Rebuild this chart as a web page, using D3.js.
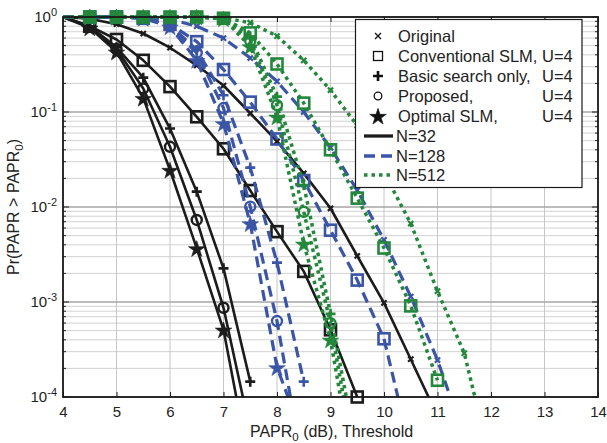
<!DOCTYPE html>
<html>
<head>
<meta charset="utf-8">
<script src="https://cdn.jsdelivr.net/npm/d3@7"></script>
<style>
  html, body { margin: 0; padding: 0; background: #fff; }
  svg { display: block; font-family: "Liberation Sans", Arial, sans-serif; }
</style>
</head>
<body>
<div id="chart"></div>
<script>
// PAPR CCDF curves

const thresholds = [4, 4.5, 5, 5.5, 6, 6.5, 7, 7.5, 8, 8.5, 9, 9.5, 10, 10.5, 11, 11.5, 12];

// N = 32
const orig32  = [1, 0.96, 0.84, 0.67, 0.475, 0.31, 0.19, 0.097, 0.049, 0.0226, 0.0097, 0.00305, 0.00098, 0.00025, 0.000063];
const conv32  = [1, 0.8, 0.58, 0.35, 0.185, 0.089, 0.041, 0.0149, 0.0055, 0.0021, 0.00051, 0.0001];
const basic32 = [1, 0.8, 0.48, 0.23, 0.067, 0.0145, 0.00226, 0.000145];
const prop32  = [1, 0.79, 0.46, 0.177, 0.043, 0.0073, 0.00087, 0.000044];
const opt32   = [1, 0.77, 0.43, 0.14, 0.0245, 0.00367, 0.00051, 0.000017];

// N = 128
const orig128  = [1, 1, 1, 0.99, 0.95, 0.8, 0.6, 0.37, 0.21, 0.1, 0.042, 0.015, 0.0045, 0.00114, 0.000245, 0.000038];
const conv128  = [1, 1, 1, 0.97, 0.84, 0.55, 0.28, 0.127, 0.052, 0.019, 0.0057, 0.0017, 0.00041, 0.000027];
const basic128 = [1, 1, 1, 0.98, 0.82, 0.45, 0.15, 0.026, 0.0026, 0.000145];
const prop128  = [1, 1, 1, 0.98, 0.8, 0.42, 0.11, 0.0101, 0.00063, 0.000016];
const opt128   = [1, 1, 1, 0.97, 0.79, 0.35, 0.076, 0.0067, 0.000205, 0.000036];

// N = 512
const orig512  = [1, 1, 1, 1, 1, 1, 0.98, 0.87, 0.63, 0.35, 0.17, 0.072, 0.023, 0.0067, 0.0013, 0.00029, 0.00002];
const conv512  = [1, 1, 1, 1, 1, 1, 0.97, 0.68, 0.32, 0.124, 0.04, 0.0124, 0.0037, 0.00091, 0.00015];
const basic512 = [1, 1, 1, 1, 1, 1, 0.97, 0.62, 0.145, 0.017, 0.00075, 0.000025];
const prop512  = [1, 1, 1, 1, 1, 1, 0.96, 0.56, 0.118, 0.0089, 0.0006, 0.000015];
const opt512   = [1, 1, 1, 1, 1, 1, 0.96, 0.49, 0.089, 0.0041, 0.0004, 0.00001];

const xTicks = [4, 5, 6, 7, 8, 9, 10, 11, 12, 13, 14];
const yDecades = [0, -1, -2, -3, -4];

const legendMethods = [
  { label: "Original", u: "", marker: "x" },
  { label: "Conventional SLM,", u: "U=4", marker: "square" },
  { label: "Basic search only,", u: "U=4", marker: "plus" },
  { label: "Proposed,", u: "U=4", marker: "circle" },
  { label: "Optimal SLM,", u: "U=4", marker: "star" }
];
const legendSizes = ["N=32", "N=128", "N=512"];

const W = 607, H = 443;
const margin = { left: 63, right: 9, top: 17, bottom: 46 };

const styles = [
  { color: "#1c1c1c", width: 2.6, dash: null },
  { color: "#3b55a6", width: 3.2, dash: "11,6" },
  { color: "#23873b", width: 3.5, dash: "3.5,4" }
];

const series = [
  { s: 0, marker: "x", values: orig32 },
  { s: 0, marker: "square", values: conv32 },
  { s: 0, marker: "plus", values: basic32 },
  { s: 0, marker: "circle", values: prop32 },
  { s: 0, marker: "star", values: opt32 },
  { s: 1, marker: "x", values: orig128 },
  { s: 1, marker: "square", values: conv128 },
  { s: 1, marker: "plus", values: basic128 },
  { s: 1, marker: "circle", values: prop128 },
  { s: 1, marker: "star", values: opt128 },
  { s: 2, marker: "x", values: orig512 },
  { s: 2, marker: "square", values: conv512 },
  { s: 2, marker: "plus", values: basic512 },
  { s: 2, marker: "circle", values: prop512 },
  { s: 2, marker: "star", values: opt512 }
];

const svg = d3.select("#chart").append("svg")
  .attr("width", W).attr("height", H);

const x = d3.scaleLinear().domain([4, 14]).range([margin.left, W - margin.right]);
const y = d3.scaleLog().domain([1e-4, 1]).range([H - margin.bottom, margin.top]);

const x0 = x.range()[0], x1 = x.range()[1];
const yb = y.range()[0], yt = y.range()[1];

// grid
const grid = svg.append("g");
yDecades.slice(1).forEach(e => {
  for (let m = 2; m <= 9; m++) {
    const v = m * Math.pow(10, e);
    grid.append("line")
      .attr("x1", x0).attr("x2", x1)
      .attr("y1", y(v)).attr("y2", y(v))
      .attr("stroke", "#d2d2d2").attr("stroke-width", 1);
  }
});
xTicks.forEach(t => {
  grid.append("line")
    .attr("x1", x(t)).attr("x2", x(t))
    .attr("y1", yt).attr("y2", yb)
    .attr("stroke", "#c6c6c6").attr("stroke-width", 1);
});
yDecades.forEach(e => {
  grid.append("line")
    .attr("x1", x0).attr("x2", x1)
    .attr("y1", y(Math.pow(10, e))).attr("y2", y(Math.pow(10, e)))
    .attr("stroke", "#a6a6a6").attr("stroke-width", 1.3);
});

// axes (ticks pointing inward)
svg.append("g")
  .attr("transform", `translate(0,${yb})`)
  .call(d3.axisBottom(x).tickValues(xTicks).tickSize(-5).tickPadding(9).tickFormat(d3.format("d")))
  .call(g => g.select(".domain").remove())
  .call(g => g.selectAll("line").attr("stroke", "#222"))
  .call(g => g.selectAll("text").attr("font-size", 15).attr("fill", "#222").attr("font-family", "Liberation Sans, Arial, sans-serif"));

svg.append("g")
  .attr("transform", `translate(0,${yt})`)
  .call(d3.axisTop(x).tickValues(xTicks).tickSize(-5).tickFormat(""))
  .call(g => g.select(".domain").remove())
  .call(g => g.selectAll("line").attr("stroke", "#222"));

const yTickG = svg.append("g");
yDecades.forEach(e => {
  const yy = y(Math.pow(10, e));
  yTickG.append("line").attr("x1", x0).attr("x2", x0 + 6).attr("y1", yy).attr("y2", yy).attr("stroke", "#222");
  yTickG.append("line").attr("x1", x1).attr("x2", x1 - 6).attr("y1", yy).attr("y2", yy).attr("stroke", "#222");
  const t = yTickG.append("text")
    .attr("x", x0 - 6).attr("y", yy + 5)
    .attr("text-anchor", "end").attr("font-size", 15).attr("fill", "#222");
  t.append("tspan").text("10");
  t.append("tspan").attr("dy", -6).attr("font-size", 11).text(String(e));
  if (e < 0) {
    for (let m = 2; m <= 9; m++) {
      const v = m * Math.pow(10, e);
      yTickG.append("line").attr("x1", x0).attr("x2", x0 + 3).attr("y1", y(v)).attr("y2", y(v)).attr("stroke", "#222");
      yTickG.append("line").attr("x1", x1).attr("x2", x1 - 3).attr("y1", y(v)).attr("y2", y(v)).attr("stroke", "#222");
    }
  }
});

// axis labels
const xl = svg.append("text")
  .attr("x", (x0 + x1) / 2 + 1).attr("y", 437)
  .attr("text-anchor", "middle").attr("font-size", 16).attr("fill", "#222");
xl.append("tspan").text("PAPR");
xl.append("tspan").attr("dy", 4).attr("font-size", 11.5).text("0");
xl.append("tspan").attr("dy", -4).text(" (dB), Threshold");

const yl = svg.append("text")
  .attr("transform", `translate(19,${(yt + yb) / 2}) rotate(-90)`)
  .attr("text-anchor", "middle").attr("font-size", 16).attr("fill", "#222");
yl.append("tspan").text("Pr(PAPR > PAPR");
yl.append("tspan").attr("dy", 4).attr("font-size", 11.5).text("0");
yl.append("tspan").attr("dy", -4).text(")");

// clip for curves
svg.append("defs").append("clipPath").attr("id", "plotclip")
  .append("rect").attr("x", x0).attr("y", yt - 6).attr("width", x1 - x0).attr("height", yb - yt + 6);

const line = d3.line()
  .defined(d => d.v != null)
  .x(d => x(d.t)).y(d => y(d.v));

function drawMarker(g, type, cx, cy, color, big) {
  if (type === "x") {
    const r = big ? 2.6 : 3;
    g.append("path")
      .attr("d", `M${cx - r},${cy - r}L${cx + r},${cy + r}M${cx - r},${cy + r}L${cx + r},${cy - r}`)
      .attr("stroke", color).attr("stroke-width", big ? 2.2 : 1.3).attr("fill", "none");
  } else if (type === "square") {
    const h = big ? 5.5 : 4.5;
    g.append("rect").attr("x", cx - h).attr("y", cy - h).attr("width", 2 * h).attr("height", 2 * h)
      .attr("fill", "none").attr("stroke", color).attr("stroke-width", big ? 2.6 : 1.3);
  } else if (type === "plus") {
    const h = 5;
    g.append("path")
      .attr("d", `M${cx - h},${cy}L${cx + h},${cy}M${cx},${cy - h}L${cx},${cy + h}`)
      .attr("stroke", color).attr("stroke-width", 2.6).attr("fill", "none");
  } else if (type === "circle") {
    g.append("circle").attr("cx", cx).attr("cy", cy).attr("r", big ? 5 : 3.8)
      .attr("fill", "none").attr("stroke", color).attr("stroke-width", big ? 2.4 : 1.3);
  } else if (type === "star") {
    g.append("path")
      .attr("transform", `translate(${cx},${cy + 1})`)
      .attr("d", d3.symbol(d3.symbolStar, big ? 85 : 85)())
      .attr("fill", color).attr("stroke", color).attr("stroke-width", 0.6);
  }
}

series.forEach(sr => {
  const st = styles[sr.s];
  const pts = thresholds.map((t, i) => ({ t, v: i < sr.values.length ? sr.values[i] : null }));
  const g = svg.append("g");
  g.append("path")
    .datum(pts)
    .attr("clip-path", "url(#plotclip)")
    .attr("d", line)
    .attr("fill", "none")
    .attr("stroke", st.color)
    .attr("stroke-width", st.width)
    .attr("stroke-dasharray", st.dash)
    .attr("stroke-linejoin", "round");
  pts.filter(d => d.v != null && d.t > 4 && d.v >= 0.99e-4).forEach(d => {
    drawMarker(g, sr.marker, x(d.t), y(d.v), st.color, true);
  });
});

// outer box
svg.append("rect")
  .attr("x", x0).attr("y", yt).attr("width", x1 - x0).attr("height", yb - yt)
  .attr("fill", "none").attr("stroke", "#1a1a1a").attr("stroke-width", 1.8);

// legend
const lg = svg.append("g");
lg.append("rect").attr("x", 355.5).attr("y", 19.5).attr("width", 226.5).attr("height", 168)
  .attr("fill", "#fff").attr("stroke", "#1a1a1a").attr("stroke-width", 1.2);
const rowY = [36, 56, 76, 96, 116, 136, 156, 175];
legendMethods.forEach((m, i) => {
  drawMarker(lg, m.marker, 378, rowY[i], "#111", false);
  lg.append("text").attr("x", 398).attr("y", rowY[i] + 6)
    .attr("font-size", 16.5).attr("fill", "#222").text(m.label);
  if (m.u) lg.append("text").attr("x", 542).attr("y", rowY[i] + 6)
    .attr("font-size", 16.5).attr("fill", "#222").text(m.u);
});
legendSizes.forEach((lab, i) => {
  const st = styles[i];
  const yy = rowY[5 + i];
  lg.append("line").attr("x1", 364).attr("x2", 393).attr("y1", yy).attr("y2", yy)
    .attr("stroke", st.color).attr("stroke-width", 3.3).attr("stroke-dasharray", st.dash);
  lg.append("text").attr("x", 396).attr("y", yy + 6)
    .attr("font-size", 16.5).attr("fill", "#222").text(lab);
});
</script>
</body>
</html>
